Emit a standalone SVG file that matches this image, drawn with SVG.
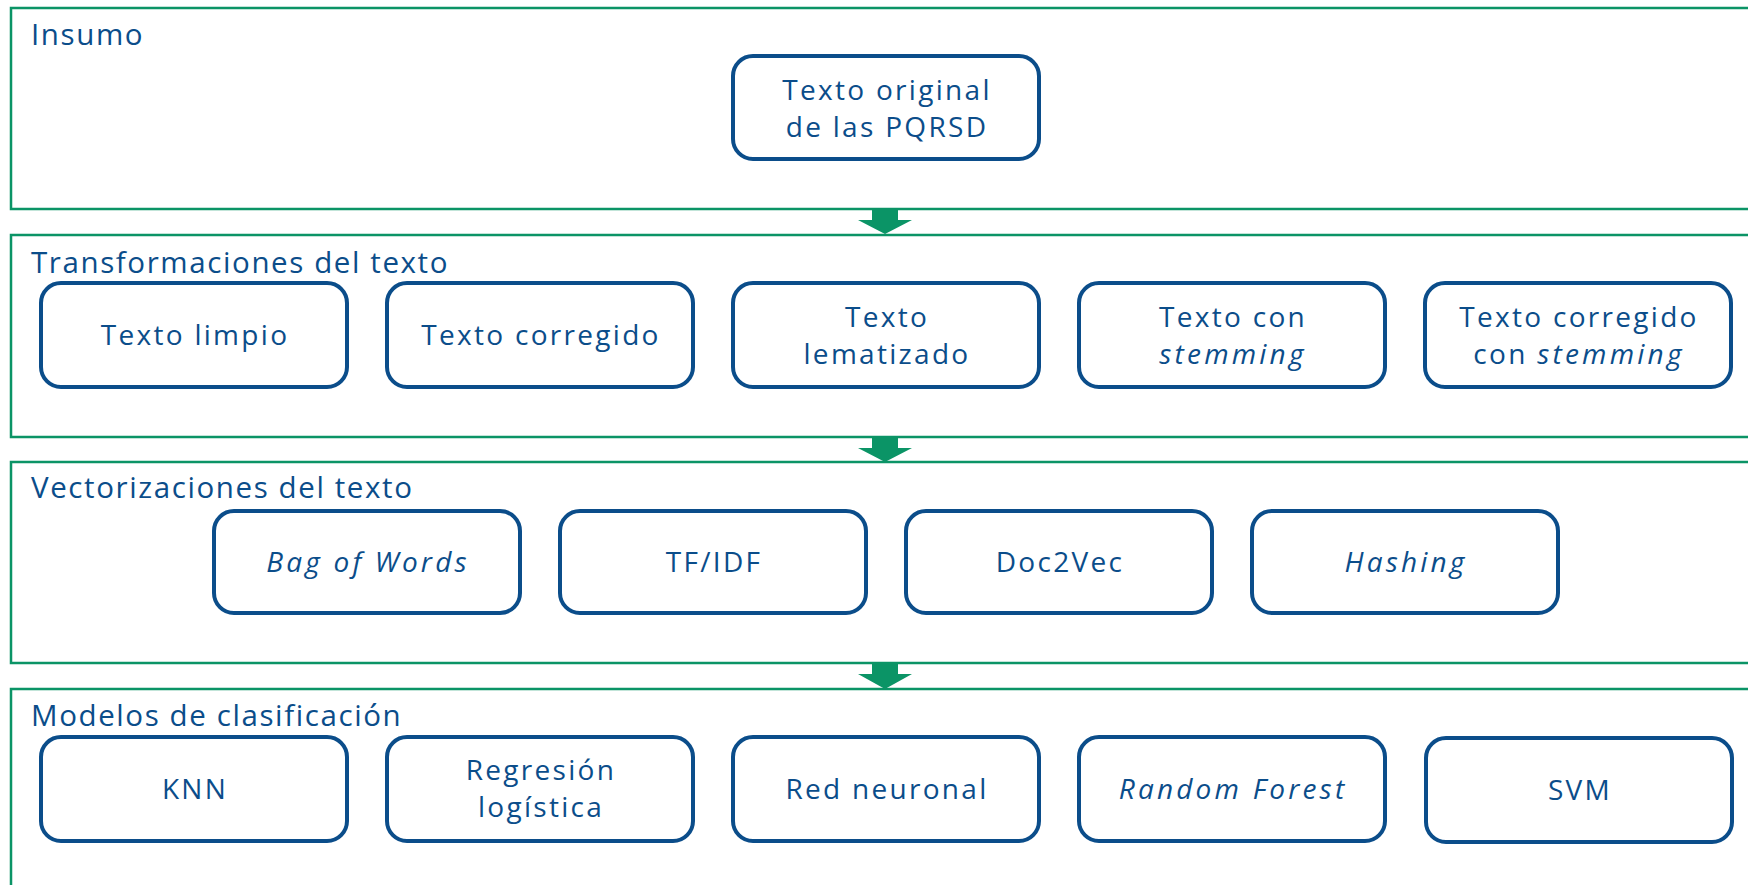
<svg xmlns="http://www.w3.org/2000/svg" width="1748" height="885" viewBox="0 0 1748 885">
<style>
.panel{fill:none;stroke:#0b9466;stroke-width:2.5}
.node rect{fill:#fff;stroke:#0b4d8a;stroke-width:4}
text{font-family:"Open Sans","Noto Sans","Liberation Sans",sans-serif;font-size:28px;fill:#0b4d8a}
.title{font-size:29.5px;letter-spacing:1.6px}
.lbl{text-anchor:middle;letter-spacing:2.3px}
.it{font-style:italic;letter-spacing:3.2px}
.arrow{fill:#0b9466}
</style>
<rect width="1748" height="885" fill="#fff"/>
<g id="panel-insumo"><rect class="panel" x="11" y="8" width="1760" height="201"/><text class="title" x="31" y="45">Insumo</text></g>
<g id="panel-transformaciones"><rect class="panel" x="11" y="235" width="1760" height="202"/><text class="title" x="31" y="273">Transformaciones del texto</text></g>
<g id="panel-vectorizaciones"><rect class="panel" x="11" y="462" width="1760" height="201"/><text class="title" x="31" y="498">Vectorizaciones del texto</text></g>
<g id="panel-modelos"><rect class="panel" x="11" y="689" width="1760" height="220"/><text class="title" x="31" y="726">Modelos de clasificación</text></g>

<g id="connectors">
<path class="arrow" d="M872,209 H898 V220 H912 L885,234 L858,220 H872 Z"/>
<path class="arrow" d="M872,437 H898 V448 H912 L885,462 L858,448 H872 Z"/>
<path class="arrow" d="M872,663 H898 V674 H912 L885,689 L858,674 H872 Z"/>
</g>

<g id="n-original" class="node"><rect x="733" y="56" width="306" height="103" rx="20"/><text class="lbl" x="887" y="100">Texto original</text><text class="lbl" x="887" y="137">de las PQRSD</text></g>

<g id="n-limpio" class="node"><rect x="41" y="283" width="306" height="104" rx="20"/><text class="lbl" x="195" y="345">Texto limpio</text></g>
<g id="n-corregido" class="node"><rect x="387" y="283" width="306" height="104" rx="20"/><text class="lbl" x="541" y="345">Texto corregido</text></g>
<g id="n-lematizado" class="node"><rect x="733" y="283" width="306" height="104" rx="20"/><text class="lbl" x="887" y="327">Texto</text><text class="lbl" x="887" y="364">lematizado</text></g>
<g id="n-stemming" class="node"><rect x="1079" y="283" width="306" height="104" rx="20"/><text class="lbl" x="1233" y="327">Texto con</text><text class="lbl it" x="1233" y="364">stemming</text></g>
<g id="n-corr-stemming" class="node"><rect x="1425" y="283" width="306" height="104" rx="20"/><text class="lbl" x="1579" y="327">Texto corregido</text><text class="lbl" x="1579" y="364">con <tspan class="it">stemming</tspan></text></g>

<g id="n-bow" class="node"><rect x="214" y="511" width="306" height="102" rx="20"/><text class="lbl it" x="368" y="572">Bag of Words</text></g>
<g id="n-tfidf" class="node"><rect x="560" y="511" width="306" height="102" rx="20"/><text class="lbl" x="714" y="572">TF/IDF</text></g>
<g id="n-doc2vec" class="node"><rect x="906" y="511" width="306" height="102" rx="20"/><text class="lbl" x="1060" y="572">Doc2Vec</text></g>
<g id="n-hashing" class="node"><rect x="1252" y="511" width="306" height="102" rx="20"/><text class="lbl it" x="1406" y="572">Hashing</text></g>

<g id="n-knn" class="node"><rect x="41" y="737" width="306" height="104" rx="20"/><text class="lbl" x="195" y="799">KNN</text></g>
<g id="n-regresion" class="node"><rect x="387" y="737" width="306" height="104" rx="20"/><text class="lbl" x="541" y="780">Regresión</text><text class="lbl" x="541" y="817">logística</text></g>
<g id="n-red" class="node"><rect x="733" y="737" width="306" height="104" rx="20"/><text class="lbl" x="887" y="799">Red neuronal</text></g>
<g id="n-rf" class="node"><rect x="1079" y="737" width="306" height="104" rx="20"/><text class="lbl it" x="1233" y="799">Random Forest</text></g>
<g id="n-svm" class="node"><rect x="1426" y="738" width="306" height="104" rx="20"/><text class="lbl" x="1580" y="800">SVM</text></g>
</svg>
